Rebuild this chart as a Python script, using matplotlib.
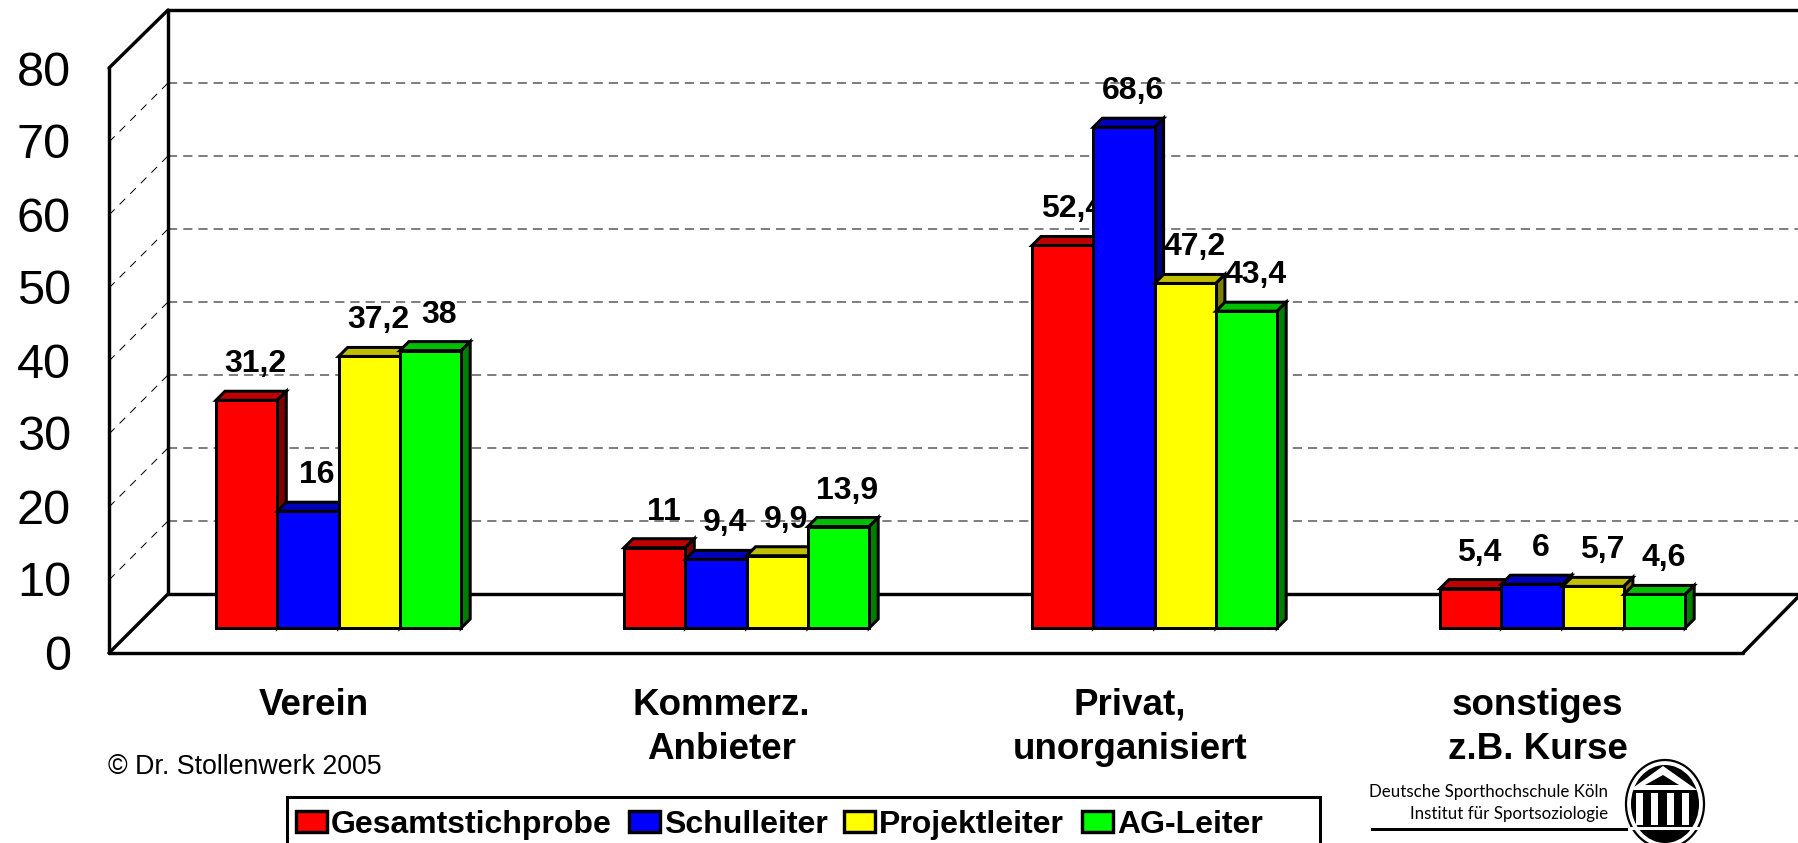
import matplotlib
matplotlib.use("Agg")
import matplotlib.pyplot as plt
from matplotlib.patches import Ellipse, Polygon, Rectangle

plt.rcParams['font.family'] = ['Liberation Sans', 'DejaVu Sans']

# data
categories = ["Verein", "Kommerz.\nAnbieter", "Privat,\nunorganisiert", "sonstiges\nz.B. Kurse"]
series = ["Gesamtstichprobe", "Schulleiter", "Projektleiter", "AG-Leiter"]
gesamt = [31.2, 11, 52.4, 5.4]
schulleiter = [16, 9.4, 68.6, 6]
projektleiter = [37.2, 9.9, 47.2, 5.7]
ag_leiter = [38, 13.9, 43.4, 4.6]
values = [gesamt, schulleiter, projektleiter, ag_leiter]
y_ticks = [0, 10, 20, 30, 40, 50, 60, 70, 80]

# colours: front, top, side
front = ['#ff0000', '#0000ff', '#ffff00', '#00ff00']
top = ['#bf0000', '#0000bf', '#bfbf00', '#00bf00']
side = ['#7f0000', '#00007f', '#7f7f00', '#007f00']

W, H = 1798, 843
PT = 0.72  # one pixel at dpi 100

fig = plt.figure(figsize=(W / 100, H / 100), dpi=100, facecolor='white')

# pixel layer for the frame, legend and logo
px = fig.add_axes([0, 0, 1, 1])
px.set_xlim(0, W)
px.set_ylim(H, 0)
px.axis('off')

# chart layer: x in categories, y in percent
per_cat = 408.0
per_unit = 7.3
x0, y0 = 338.6, 628.0
ax = fig.add_axes([0, 0, 1, 1], zorder=2)
ax.patch.set_alpha(0)
ax.set_xlim(-x0 / per_cat, (W - x0) / per_cat)
ax.set_ylim((y0 - H) / per_unit, y0 / per_unit)
ax.axis('off')

bar_w = 61.3 / per_cat
dx = 9 / per_cat
dy = 9 / per_unit


def y_back(v):
    return 594 - v * 7.3


def y_front(v):
    return 653 - v * 7.3


# grid on the back wall and side wall
for v in y_ticks[1:-1]:
    px.plot([168, W], [y_back(v), y_back(v)], color='#808080', lw=2 * PT,
            dashes=(4.6, 3.0), zorder=1)
    px.plot([109, 168], [y_front(v), y_back(v)], color='black', lw=1 * PT,
            dashes=(8, 7), zorder=1)

# frame
frame = dict(color='black', lw=3.4 * PT, zorder=2, solid_capstyle='round')
px.plot([168, 168], [10, 594], **frame)
px.plot([168, W], [10, 10], **frame)
px.plot([109, 109], [68, 653], **frame)
px.plot([109, 168], [68, 10], **frame)
px.plot([109, 168], [653, 594], **frame)
px.plot([168, W], [594, 594], **frame)
px.plot([109, 1743], [653, 653], **frame)
px.plot([1743, W], [653, 597], **frame)

# bars, drawn left to right so that later ones cover earlier labels
z = 3
edge = dict(edgecolor='black', linewidth=3 * PT, joinstyle='miter')
for c in range(len(categories)):
    for s in range(len(series)):
        v = values[s][c]
        x = c + (s - 2) * bar_w
        ax.fill([x, x + dx, x + bar_w + dx, x + bar_w], [v, v + dy, v + dy, v],
                facecolor=top[s], zorder=z, **edge)
        ax.fill([x + bar_w, x + bar_w + dx, x + bar_w + dx, x + bar_w],
                [0, dy, v + dy, v], facecolor=side[s], zorder=z, **edge)
        ax.bar(x, v, width=bar_w, align='edge', facecolor=front[s], zorder=z + 0.1, **edge)
        ax.annotate(f"{v:g}".replace('.', ','), (x + bar_w / 2, v + dy),
                    xytext=(9 * PT, 19 * PT), textcoords='offset points',
                    ha='center', va='baseline', fontsize=23, fontweight='bold',
                    color='black', zorder=z + 0.2)
        z += 1

# y labels
for v in y_ticks:
    px.text(71, y_front(v) - 1, str(v), ha='right', va='center_baseline', fontsize=35, color='black')

# category labels
for c, name in enumerate(categories):
    lines = name.split('\n')
    for n, line in enumerate(lines):
        ax.annotate(line, (c - 25 / per_cat, 0), xytext=(0, -(87 + n * 44) * PT),
                    textcoords='offset points', ha='center', va='baseline',
                    fontsize=26.5, fontweight='bold')

px.text(108, 764, "© Dr. Stollenwerk 2005", ha='left', va='center_baseline', fontsize=19.3)

# legend
px.add_patch(Rectangle((287, 797), 1033, 60, facecolor='white', edgecolor='black',
                       lw=3 * PT, zorder=3))
swatch_x = [296, 629, 844, 1082]
for s, name in enumerate(series):
    px.add_patch(Rectangle((swatch_x[s], 811), 31, 21, facecolor=front[s], edgecolor='black',
                           lw=3.4 * PT, zorder=4))
    px.text(swatch_x[s] + 35, 833, name, ha='left', va='baseline', fontsize=23,
            fontweight='bold', zorder=4)

# institute logo
logo_font = ['Lato', 'DejaVu Sans']
px.text(1608, 797, "Deutsche Sporthochschule Köln", ha='right', va='baseline',
        fontsize=12.2, family=logo_font, zorder=4)
px.text(1608, 819, "Institut für Sportsoziologie", ha='right', va='baseline',
        fontsize=12.2, family=logo_font, zorder=4)
px.plot([1372, 1626], [829, 829], color='black', lw=3 * PT, zorder=4)
px.add_patch(Ellipse((1665, 804), 78, 88, facecolor='white', edgecolor='black', lw=1.6, zorder=5))
px.add_patch(Ellipse((1665, 804), 68, 78, facecolor='black', edgecolor='none', zorder=6))
px.add_patch(Polygon([(1663, 766), (1630, 790), (1697, 790)], facecolor='white', edgecolor='none', zorder=7))
px.add_patch(Polygon([(1663, 775), (1645, 785), (1679, 785)], facecolor='black', edgecolor='none', zorder=8))
for col in [1639, 1654, 1670, 1685]:
    px.add_patch(Rectangle((col - 3.5, 793), 7, 32, facecolor='white', edgecolor='none', zorder=7))
px.add_patch(Rectangle((1630, 827), 70, 3, facecolor='white', edgecolor='none', zorder=7))

fig.savefig("out.png", dpi=100)
